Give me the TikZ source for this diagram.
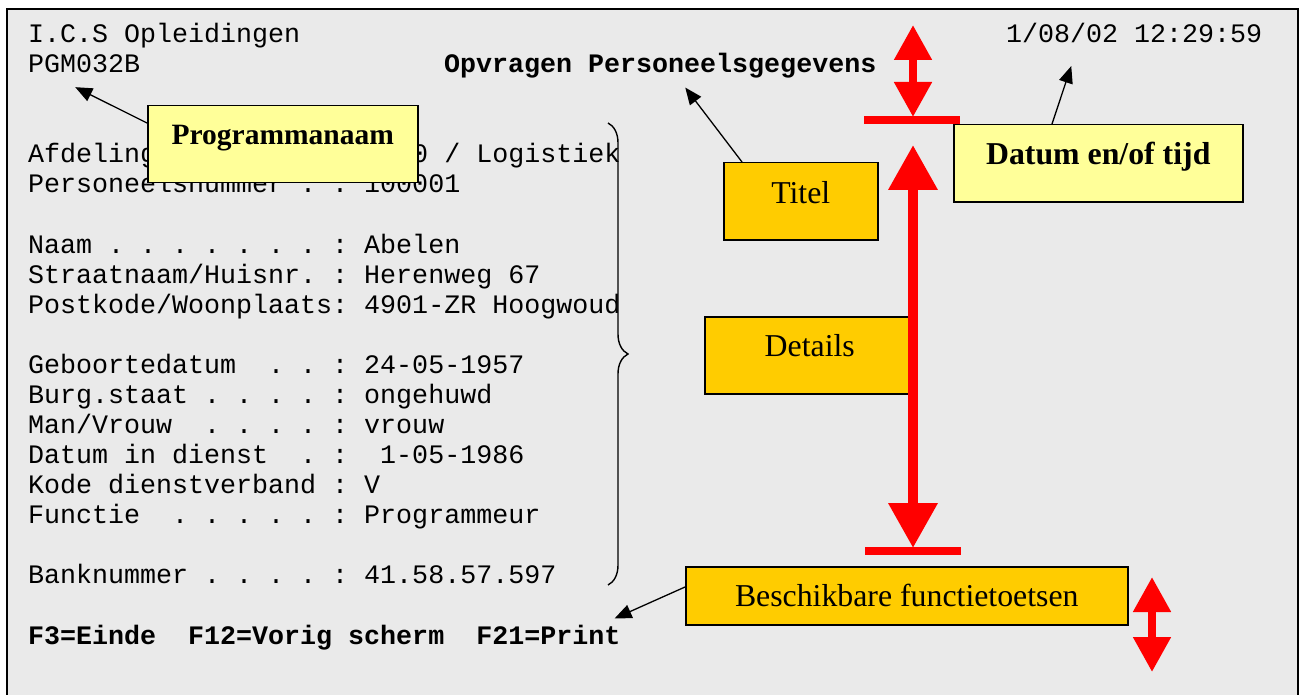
\documentclass[tikz,border=0pt]{standalone}
\usepackage{fontspec}
\usepackage{tikz}
\usetikzlibrary{arrows.meta,decorations.pathreplacing}
\newfontfamily\screenfont{Liberation Mono}
\newfontfamily\notefont{Liberation Serif}
\definecolor{screengray}{HTML}{EAEAEA}
\definecolor{notepale}{HTML}{FFFF99}
\definecolor{notegold}{HTML}{FFCC00}
\definecolor{alarm}{HTML}{FF0000}
\tikzset{
  scr/.style={anchor=base west, inner sep=0pt, font=\screenfont\fontsize{26.67}{30}\selectfont\frenchspacing},
  scrb/.style={scr, font=\screenfont\bfseries\fontsize{26.67}{30}\selectfont\frenchspacing},
  tag/.style={draw=black, line width=1.5pt, inner sep=0pt, text height=39pt, text depth=38pt,
    font=\notefont\fontsize{31.8}{34}\selectfont},
  pointer/.style={draw=black, line width=1.3pt, -{Triangle[length=17pt,width=14pt]}},
  bigspan/.style={draw=alarm, line width=10pt, {Triangle[length=45pt,width=47pt]}-{Triangle[length=45pt,width=47pt]}},
  smallspan/.style={draw=alarm, line width=8pt, {Triangle[length=35pt,width=36pt]}-{Triangle[length=35pt,width=36pt]}},
  stopbar/.style={draw=alarm, line width=8pt}
}
\begin{document}
\begin{tikzpicture}[x=1pt,y=-1pt]
            \useasboundingbox (0,0) rectangle (1300,695);
            \draw[line width=1.8pt, fill=screengray] (7,9) rectangle (1298,710);
            \node[scr] (ics) at (28,42.6) {I.C.S Opleidingen};
            \node[scr] (stamp) at (1006,42.6) {1/08/02 12:29:59};
            \node[scr] (pgm) at (28,72.7) {PGM032B};
            \node[scrb] (ttl) at (444,72.7) {Opvragen Personeelsgegevens};
            \node[scr] (afd) at (28,162.9) {Afdeling . . . . . : 0010 / Logistiek};
            \node[scr] (pnr) at (28,193.0) {Personeelsnummer . : 100001};
            \node[scr] (naam) at (28,253.1) {Naam . . . . . . . : Abelen};
            \node[scr] (straat) at (28,283.2) {Straatnaam/Huisnr. : Herenweg 67};
            \node[scr] (post) at (28,313.2) {Postkode/Woonplaats: 4901-ZR Hoogwoud};
            \node[scr] (geb) at (28,373.4) {Geboortedatum~ . . : 24-05-1957};
            \node[scr] (burg) at (28,403.4) {Burg.staat . . . . : ongehuwd};
            \node[scr] (mv) at (28,433.5) {Man/Vrouw~ . . . . : vrouw};
            \node[scr] (dienst) at (28,463.6) {Datum in dienst~ . : ~1-05-1986};
            \node[scr] (kode) at (28,493.7) {Kode dienstverband : V};
            \node[scr] (functie) at (28,523.7) {Functie~ . . . . . : Programmeur};
            \node[scr] (bank) at (28,583.9) {Banknummer . . . . : 41.58.57.597};
            \node[scrb] (fkeys) at (28,644.0) {F3=Einde~ F12=Vorig scherm~ F21=Print};
            \draw[decorate, decoration={brace, amplitude=20pt}, line width=1.4pt] (608,123) -- (608,585);
            \node[tag, fill=notepale, minimum width=270pt, font=\notefont\bfseries\fontsize{29.5}{32}\selectfont,
              anchor=north west, text depth=38pt] (prog) at (147,105) {Programmanaam};
            \node[tag, fill=notepale, minimum width=289pt, font=\notefont\bfseries\fontsize{31.8}{34}\selectfont,
              anchor=north west, text height=40pt, text depth=37pt] (datum) at (953,124) {Datum en/of tijd};
            \node[tag, fill=notegold, minimum width=154pt, anchor=north west, text height=41pt, text depth=36pt] (titel) at (723,162) {Titel};
            \node[tag, fill=notegold, minimum width=210pt, anchor=north west, text height=40pt, text depth=37pt] (details) at (704,316) {Details};
            \node[tag, fill=notegold, minimum width=442pt, anchor=north west, text height=40pt, text depth=18pt] (keys) at (685,566) {Beschikbare functietoetsen};
            \draw[pointer] ([yshift=-18pt]prog.north west) -- ([shift={(-9,14)}]pgm.south);
            \draw[pointer] ([xshift=19pt]titel.north west) -- ([shift={(25,9)}]ttl.south);
            \draw[pointer] ([xshift=99pt]datum.north west) -- ([shift={(-63,23)}]stamp.south);
            \draw[pointer] ([yshift=-21pt]keys.north west) -- ([shift={(-6,-6)}]fkeys.north east);
            \coordinate (headtop) at (913,25);
            \coordinate (headbot) at (913,117);
            \coordinate (bodytop) at (913,145);
            \coordinate (bodybot) at (913,548);
            \coordinate (foottop) at (1152,577);
            \coordinate (footbot) at (1152,672);
            \draw[stopbar] (864,120) -- (960,120);
            \draw[stopbar] (865,551) -- (961,551);
            \draw[smallspan] (headtop) -- (headbot);
            \draw[bigspan] (bodytop) -- (bodybot);
            \draw[smallspan] (foottop) -- (footbot);
\end{tikzpicture}
\end{document}
